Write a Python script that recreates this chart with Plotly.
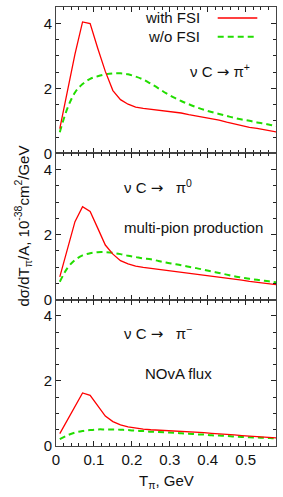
import plotly.graph_objects as go

T = [0.01, 0.03, 0.05, 0.07, 0.09, 0.11, 0.13, 0.15, 0.17, 0.19,
     0.21, 0.23, 0.25, 0.27, 0.29, 0.31, 0.33, 0.35, 0.37, 0.39,
     0.41, 0.43, 0.45, 0.47, 0.49, 0.51, 0.53, 0.55, 0.57, 0.59]

pip_fsi = [0.76, 1.89, 3.05, 4.04, 3.99, 3.23, 2.52, 1.93, 1.65, 1.51,
           1.42, 1.38, 1.35, 1.32, 1.29, 1.28, 1.24, 1.19, 1.15, 1.12,
           1.07, 1.02, 0.96, 0.90, 0.86, 0.80, 0.77, 0.73, 0.69, 0.64]
pip_nofsi = [0.65, 1.38, 1.87, 2.13, 2.29, 2.37, 2.43, 2.46, 2.46, 2.43,
             2.36, 2.27, 2.14, 2.00, 1.85, 1.72, 1.61, 1.51, 1.42, 1.34,
             1.27, 1.21, 1.15, 1.09, 1.04, 1.00, 0.95, 0.91, 0.86, 0.82]

pi0_fsi = [0.70, 1.55, 2.40, 2.86, 2.71, 2.20, 1.68, 1.40, 1.20, 1.10,
           1.03, 0.99, 0.96, 0.94, 0.91, 0.88, 0.85, 0.83, 0.79, 0.77,
           0.74, 0.70, 0.67, 0.63, 0.60, 0.56, 0.53, 0.50, 0.47, 0.45]
pi0_nofsi = [0.55, 0.97, 1.22, 1.36, 1.43, 1.46, 1.46, 1.44, 1.40, 1.35,
             1.31, 1.27, 1.24, 1.19, 1.14, 1.10, 1.06, 1.01, 0.97, 0.92,
             0.87, 0.82, 0.77, 0.72, 0.68, 0.64, 0.61, 0.58, 0.55, 0.52]

pim_fsi = [0.38, 0.80, 1.22, 1.63, 1.56, 1.22, 0.92, 0.75, 0.65, 0.59,
           0.55, 0.52, 0.50, 0.49, 0.48, 0.47, 0.46, 0.44, 0.42, 0.41,
           0.39, 0.38, 0.36, 0.34, 0.32, 0.30, 0.29, 0.27, 0.25, 0.24]
pim_nofsi = [0.21, 0.33, 0.41, 0.46, 0.49, 0.51, 0.51, 0.51, 0.50, 0.49,
             0.47, 0.46, 0.44, 0.43, 0.42, 0.41, 0.39, 0.38, 0.36, 0.35,
             0.33, 0.32, 0.31, 0.29, 0.28, 0.27, 0.26, 0.25, 0.24, 0.23]

x_ticks = [0, 0.1, 0.2, 0.3, 0.4, 0.5]
x_ticklabels = ["0", "0.1", "0.2", "0.3", "0.4", "0.5"]
y_ticks = [0, 2, 4]

RED = "#ff0000"
GREEN = "#22dd00"
FONT = "Liberation Sans, Arial, sans-serif"

panels = [(pip_fsi, pip_nofsi), (pi0_fsi, pi0_nofsi), (pim_fsi, pim_nofsi)]
axis_names = ["", "2", "3"]  # top, middle, bottom
domains = [[2/3, 1.0], [1/3, 2/3], [0.0, 1/3]]

fig = go.Figure()
for i, (fsi, nofsi) in enumerate(panels):
    xa = "x" + axis_names[i]
    ya = "y" + axis_names[i]
    fig.add_trace(go.Scatter(x=T, y=nofsi, mode="lines", xaxis=xa, yaxis=ya,
                             line=dict(color=GREEN, width=2, dash="6px,4px", shape="spline"),
                             showlegend=False))
    fig.add_trace(go.Scatter(x=T, y=fsi, mode="lines", xaxis=xa, yaxis=ya,
                             line=dict(color=RED, width=1.3),
                             showlegend=False))

for i in range(3):
    xkey = "xaxis" + axis_names[i]
    ykey = "yaxis" + axis_names[i]
    fig.layout[xkey] = dict(
        domain=[0, 1], anchor="y" + axis_names[i], range=[0, 0.58],
        tickmode="array", tickvals=x_ticks, ticktext=x_ticklabels,
        showticklabels=(i == 2), ticks="inside", ticklen=5, tickwidth=1,
        tickcolor="#222", mirror="allticks", showline=True, linecolor="#444",
        linewidth=1, showgrid=False, zeroline=False,
        minor=dict(dtick=0.02, tick0=0, ticks="inside", ticklen=3, tickcolor="#222"),
        tickfont=dict(family=FONT, size=15, color="#111"),
    )
    fig.layout[ykey] = dict(
        domain=domains[i], anchor="x" + axis_names[i], range=[0, 4.5],
        tickmode="array", tickvals=y_ticks, ticks="inside", ticklen=5,
        tickwidth=1, tickcolor="#222", mirror="allticks", showline=True,
        linecolor="#444", linewidth=1, showgrid=False, zeroline=False,
        minor=dict(dtick=0.5, tick0=0, ticks="inside", ticklen=3, tickcolor="#222"),
        tickfont=dict(family=FONT, size=15, color="#111"),
    )

nb = "\u00a0"
arrow = '<span style="font-family:DejaVu Sans">→</span>'
annotations = [
    dict(text="with FSI", x=0.665, y=0.975, xref="paper", yref="paper",
         xanchor="right", yanchor="middle", showarrow=False),
    dict(text="w/o FSI", x=0.665, y=0.932, xref="paper", yref="paper",
         xanchor="right", yanchor="middle", showarrow=False),
    dict(text="ν C " + arrow + " π<sup>+</sup>", x=0.6, y=0.855, xref="paper", yref="paper",
         xanchor="left", yanchor="middle", showarrow=False),
    dict(text="ν C " + arrow + nb * 3 + "π<sup>0</sup>", x=0.3, y=0.59, xref="paper", yref="paper",
         xanchor="left", yanchor="middle", showarrow=False),
    dict(text="multi-pion production", x=0.3, y=0.497, xref="paper", yref="paper",
         xanchor="left", yanchor="middle", showarrow=False),
    dict(text="ν C " + arrow + nb * 3 + "π<sup>−</sup>", x=0.3, y=0.257, xref="paper", yref="paper",
         xanchor="left", yanchor="middle", showarrow=False),
    dict(text="NOvA flux", x=0.395, y=0.165, xref="paper", yref="paper",
         xanchor="left", yanchor="middle", showarrow=False),
    dict(text="dσ/dT<sub>π</sub>/A, 10<sup>-38</sup>cm<sup>2</sup>/GeV", x=-0.15, y=0.5,
         xref="paper", yref="paper", xanchor="center", yanchor="middle",
         textangle=-90, showarrow=False),
    dict(text="T<sub>π</sub>, GeV", x=0.5, y=-0.082, xref="paper", yref="paper",
         xanchor="center", yanchor="middle", showarrow=False),
]
for a in annotations:
    a["font"] = dict(family=FONT, size=15, color="#111")
fig.update_layout(annotations=annotations)

fig.add_shape(type="line", xref="paper", yref="paper", x0=0.735, x1=0.915,
              y0=0.975, y1=0.975, line=dict(color=RED, width=1.3))
fig.add_shape(type="line", xref="paper", yref="paper", x0=0.735, x1=0.915,
              y0=0.932, y1=0.932, line=dict(color=GREEN, width=2, dash="6px,4px"))

fig.update_layout(
    width=283, height=497,
    margin=dict(l=56, r=7, t=7, b=51),
    paper_bgcolor="white", plot_bgcolor="white",
    showlegend=False,
)

fig.write_html("out.html", config={"displayModeBar": False},
               post_script="document.body.style.margin='0';document.body.style.overflow='hidden';")
